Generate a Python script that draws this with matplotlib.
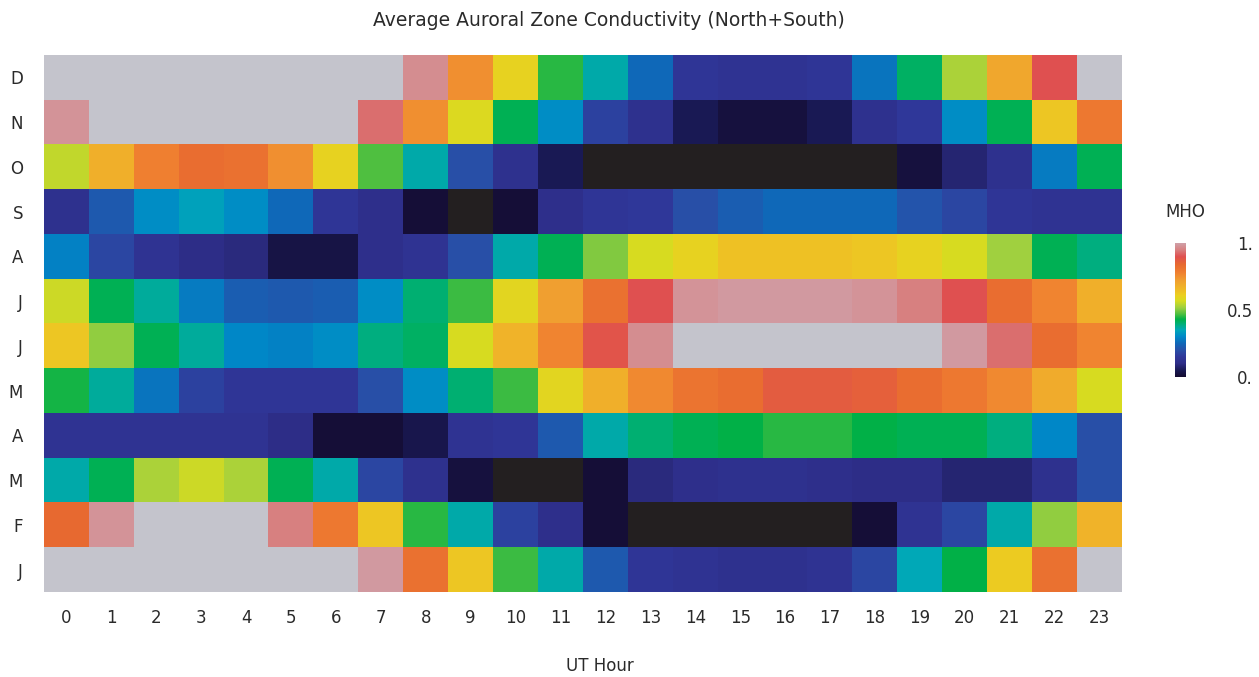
import numpy as np
import matplotlib
matplotlib.use("Agg")
import matplotlib.pyplot as plt
from matplotlib.colors import LinearSegmentedColormap

months = ["D", "N", "O", "S", "A", "J", "J", "M", "A", "M", "F", "J"]
hours = [str(h) for h in range(24)]

OV = 1.1   # saturated (above 1)
UN = -0.1  # below 0

row_D = [OV, OV, OV, OV, OV, OV, OV, OV, 0.97, 0.75, 0.60, 0.45, 0.36, 0.25, 0.14, 0.13, 0.13, 0.14, 0.27, 0.41, 0.53, 0.70, 0.90, OV]
row_N = [0.98, OV, OV, OV, OV, OV, OV, 0.93, 0.75, 0.58, 0.42, 0.31, 0.17, 0.12, 0.05, 0.02, 0.02, 0.05, 0.12, 0.15, 0.31, 0.42, 0.63, 0.80]
row_O = [0.55, 0.68, 0.78, 0.83, 0.82, 0.75, 0.60, 0.47, 0.36, 0.20, 0.12, 0.05, UN, UN, UN, UN, UN, UN, UN, 0.02, 0.08, 0.12, 0.28, 0.42]
row_S = [0.12, 0.22, 0.31, 0.34, 0.31, 0.25, 0.14, 0.11, 0.01, UN, 0.01, 0.11, 0.14, 0.15, 0.20, 0.23, 0.25, 0.25, 0.25, 0.21, 0.18, 0.14, 0.13, 0.13]
row_A1 = [0.29, 0.18, 0.13, 0.10, 0.09, 0.03, 0.03, 0.11, 0.13, 0.20, 0.36, 0.42, 0.50, 0.57, 0.60, 0.64, 0.64, 0.64, 0.63, 0.60, 0.57, 0.52, 0.42, 0.39]
row_J1 = [0.56, 0.42, 0.37, 0.28, 0.23, 0.22, 0.23, 0.31, 0.40, 0.46, 0.59, 0.72, 0.82, 0.90, 0.98, 0.99, 0.99, 0.99, 0.98, 0.95, 0.90, 0.83, 0.77, 0.68]
row_J2 = [0.63, 0.51, 0.42, 0.37, 0.30, 0.29, 0.31, 0.39, 0.41, 0.57, 0.67, 0.77, 0.89, 0.97, OV, OV, OV, OV, OV, OV, 0.99, 0.93, 0.83, 0.77]
row_M1 = [0.44, 0.37, 0.27, 0.17, 0.14, 0.14, 0.14, 0.20, 0.31, 0.40, 0.46, 0.59, 0.68, 0.76, 0.81, 0.83, 0.87, 0.87, 0.86, 0.83, 0.80, 0.76, 0.69, 0.57]
row_A2 = [0.13, 0.13, 0.13, 0.13, 0.13, 0.10, 0.01, 0.01, 0.04, 0.13, 0.14, 0.22, 0.36, 0.40, 0.42, 0.43, 0.45, 0.45, 0.43, 0.42, 0.42, 0.39, 0.30, 0.20]
row_M2 = [0.36, 0.42, 0.53, 0.56, 0.53, 0.42, 0.36, 0.18, 0.12, 0.02, UN, UN, 0.01, 0.09, 0.11, 0.12, 0.12, 0.11, 0.10, 0.10, 0.08, 0.08, 0.12, 0.20]
row_F = [0.84, 0.98, OV, OV, OV, 0.95, 0.80, 0.63, 0.45, 0.36, 0.17, 0.11, 0.01, UN, UN, UN, UN, UN, 0.01, 0.13, 0.18, 0.36, 0.51, 0.67]
row_J3 = [OV, OV, OV, OV, OV, OV, OV, 0.99, 0.82, 0.63, 0.46, 0.36, 0.22, 0.14, 0.13, 0.12, 0.12, 0.13, 0.18, 0.35, 0.43, 0.62, 0.82, OV]

data = np.array([row_D, row_N, row_O, row_S, row_A1, row_J1, row_J2,
                 row_M1, row_A2, row_M2, row_F, row_J3])

nodes = [
    (0.00, "#140c30"), (0.05, "#1a1a55"), (0.10, "#2e2e88"), (0.15, "#30389a"),
    (0.20, "#2850a8"), (0.25, "#1068b8"), (0.30, "#0088c8"), (0.35, "#00a8b8"),
    (0.40, "#00b070"), (0.43, "#00b048"), (0.47, "#50c040"), (0.52, "#a0d040"),
    (0.57, "#d8dc20"), (0.61, "#ecd020"), (0.66, "#f0b828"), (0.72, "#f0a030"),
    (0.78, "#f08030"), (0.84, "#e86a30"), (0.90, "#e05050"), (0.95, "#d88080"),
    (1.00, "#d0a0a8"),
]
cmap = LinearSegmentedColormap.from_list("aur", nodes, N=512)
cmap.set_over("#c4c4cc")
cmap.set_under("#231f20")

W, H = 1259, 677
fig = plt.figure(figsize=(W / 100, H / 100), dpi=100)
txtc = "#2a2a2a"
fs = 12

ax = fig.add_axes([44 / W, 1 - 592 / H, (1122 - 44) / W, (592 - 55) / H])
ax.imshow(data, cmap=cmap, vmin=0, vmax=1, aspect="auto", interpolation="nearest")
ax.set_xticks(range(24))
ax.set_xticklabels(hours, fontsize=fs, color=txtc)
ax.set_yticks(range(12))
ax.set_yticklabels(months, fontsize=fs, color=txtc)
ax.tick_params(length=0)
ax.tick_params(axis="x", pad=12)
ax.tick_params(axis="y", pad=15)
for s in ax.spines.values():
    s.set_visible(False)

fig.text(609 / W, 1 - 21 / H, "Average Auroral Zone Conductivity (North+South)",
         ha="center", va="center", fontsize=13.5, color=txtc)
fig.text(600 / W, 1 - 666 / H, "UT Hour", ha="center", va="center", fontsize=fs, color=txtc)

cax = fig.add_axes([1175 / W, 1 - 377 / H, 11 / W, (377 - 243) / H])
grad = np.linspace(0, 1, 256).reshape(-1, 1)
cax.imshow(grad, cmap=cmap, vmin=0, vmax=1, aspect="auto", origin="lower",
           extent=[0, 1, 0, 1])
cax.set_xticks([])
cax.yaxis.tick_right()
cax.set_yticks([0, 0.5, 1])
cax.set_yticklabels(["0.", "0.5", "1."], fontsize=fs, color=txtc, ha="right")
cax.tick_params(length=0, pad=48)
for s in cax.spines.values():
    s.set_visible(False)
fig.text(1185 / W, 1 - 212 / H, "MHO", ha="center", va="center", fontsize=fs, color=txtc)

fig.savefig("out.png", dpi=100)
